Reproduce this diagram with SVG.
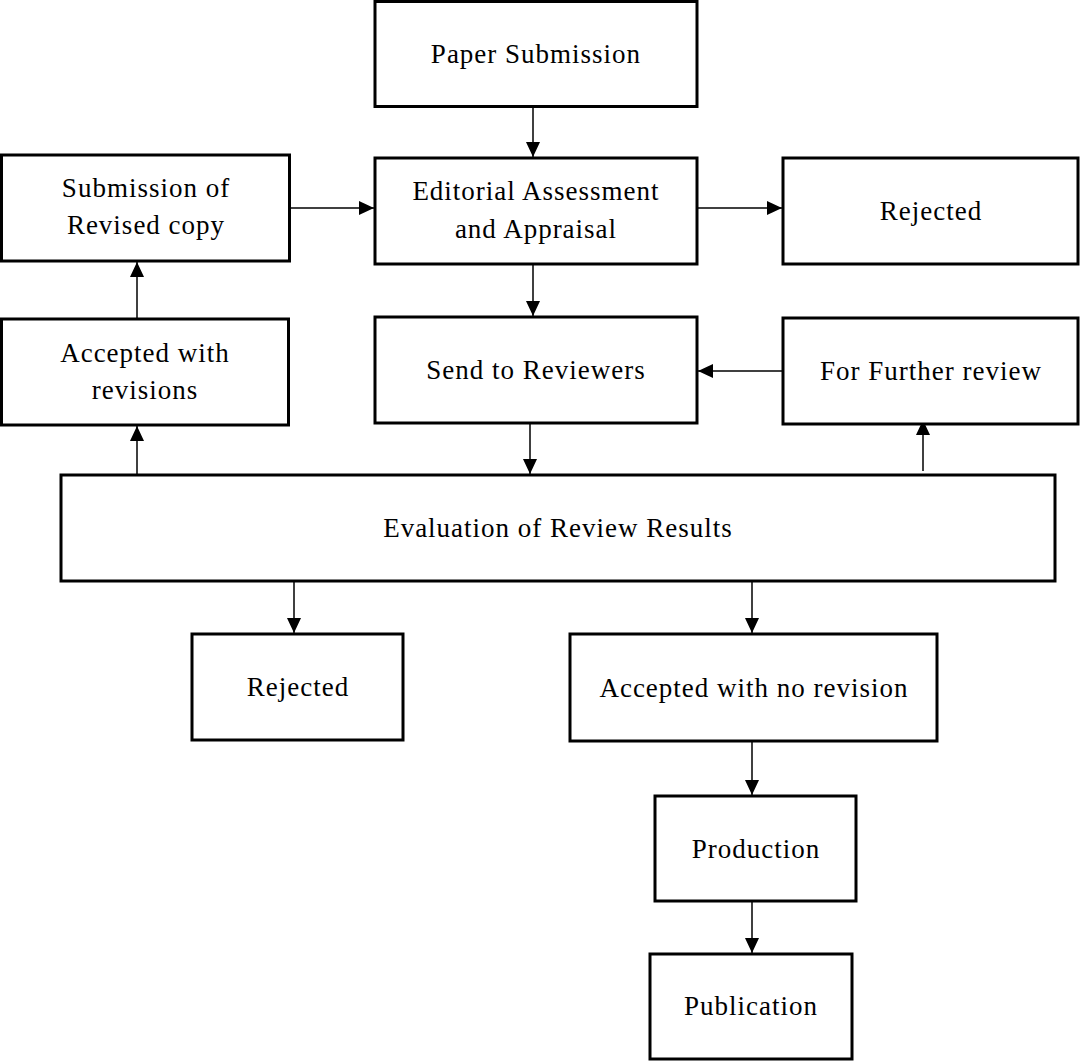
<svg xmlns="http://www.w3.org/2000/svg" width="1080" height="1061" viewBox="0 0 1080 1061">
<style>
.box{fill:#fff;stroke:#000;stroke-width:3}
.t{font-family:"Liberation Serif","Times New Roman",serif;font-size:27px;letter-spacing:1px;fill:#000;text-anchor:middle}
.c{stroke:#000;stroke-width:1.5;fill:none;marker-end:url(#ah)}
</style>
<defs>
<marker id="ah" markerUnits="userSpaceOnUse" markerWidth="16" markerHeight="14" refX="15" refY="7" orient="auto">
<path d="M0,0 L15,7 L0,14 Z" fill="#000"/>
</marker>
</defs>
<rect width="1080" height="1061" fill="#fff"/>
<g id="connectors">
<line class="c" x1="533" y1="107" x2="533" y2="157"/>
<line class="c" x1="289" y1="208" x2="374" y2="208"/>
<line class="c" x1="697" y1="208" x2="782" y2="208"/>
<line class="c" x1="533" y1="265" x2="533" y2="316"/>
<line class="c" x1="783" y1="371" x2="698" y2="371"/>
<line class="c" x1="530" y1="424" x2="530" y2="474"/>
<line class="c" x1="137" y1="474" x2="137" y2="426"/>
<line class="c" x1="137" y1="318" x2="137" y2="262"/>
<line class="c" x1="923" y1="471" x2="923" y2="420"/>
<line class="c" x1="294" y1="581" x2="294" y2="633"/>
<line class="c" x1="752" y1="581" x2="752" y2="633"/>
<line class="c" x1="752" y1="742" x2="752" y2="795"/>
<line class="c" x1="752" y1="902" x2="752" y2="953"/>
</g>
<g id="paper-submission"><rect class="box" x="375" y="1.5" width="322" height="105"/><text class="t" x="536" y="63">Paper Submission</text></g>
<g id="submission-revised"><rect class="box" x="1.5" y="155" width="288" height="106"/><text class="t" x="146" y="197">Submission of</text><text class="t" x="146" y="234">Revised copy</text></g>
<g id="editorial"><rect class="box" x="375" y="158" width="322" height="106"/><text class="t" x="536" y="200">Editorial Assessment</text><text class="t" x="536" y="238">and Appraisal</text></g>
<g id="rejected-top"><rect class="box" x="783" y="158" width="295" height="106"/><text class="t" x="931" y="220">Rejected</text></g>
<g id="accepted-revisions"><rect class="box" x="1.5" y="319" width="287" height="106"/><text class="t" x="145" y="362">Accepted with</text><text class="t" x="145" y="399">revisions</text></g>
<g id="send-reviewers"><rect class="box" x="375" y="317" width="322" height="106"/><text class="t" x="536" y="379">Send to Reviewers</text></g>
<g id="further-review"><rect class="box" x="783" y="318" width="295" height="106"/><text class="t" x="931" y="380">For Further review</text></g>
<g id="evaluation"><rect class="box" x="61" y="475" width="994" height="106"/><text class="t" x="558" y="537">Evaluation of Review Results</text></g>
<g id="rejected-bottom"><rect class="box" x="192" y="634" width="211" height="106"/><text class="t" x="298" y="696">Rejected</text></g>
<g id="accepted-no-revision"><rect class="box" x="570" y="634" width="367" height="107"/><text class="t" x="754" y="697">Accepted with no revision</text></g>
<g id="production"><rect class="box" x="655" y="796" width="201" height="105"/><text class="t" x="756" y="858">Production</text></g>
<g id="publication"><rect class="box" x="650" y="954" width="202" height="105"/><text class="t" x="751" y="1015">Publication</text></g>
</svg>
